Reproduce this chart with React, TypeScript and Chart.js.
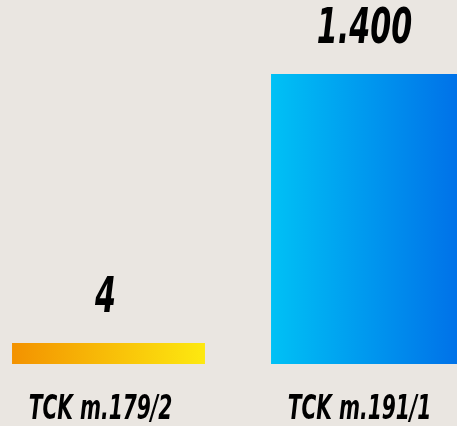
import React, { useEffect, useRef } from "react";
import { Chart, registerables } from "chart.js";

Chart.register(...registerables);

const categories = ["TCK m.179/2", "TCK m.191/1"];
const values = [4, 1400];
const valueLabels = ["4", "1.400"];
const gradientStops = [
  ["#f39200", "#fde910"],
  ["#00c1f5", "#006fe8"],
];

const BG = "#eae6e1";
const FONT = "'DejaVu Sans Condensed', 'Liberation Sans', sans-serif";

const labelPlugin = {
  id: "customLabels",
  afterDatasetsDraw(chart: any) {
    const ctx = chart.ctx;
    const meta = chart.getDatasetMeta(0);
    ctx.save();
    ctx.fillStyle = "#000";
    ctx.textAlign = "center";
    ctx.textBaseline = "alphabetic";
    meta.data.forEach((bar: any, i: number) => {
      // value label
      ctx.save();
      ctx.translate(bar.x - 3, bar.y - 31);
      ctx.scale(0.67, 1);
      ctx.font = `italic bold 50px ${FONT}`;
      ctx.fillText(valueLabels[i], 0, 0);
      ctx.restore();
      // category label
      ctx.save();
      ctx.translate(bar.x - 8, chart.chartArea.bottom + 55);
      ctx.scale(0.68, 1);
      ctx.font = `italic bold 33px ${FONT}`;
      ctx.fillText(categories[i], 0, 0);
      ctx.restore();
    });
    ctx.restore();
  },
};

export default function App() {
  const ref = useRef<HTMLCanvasElement>(null);
  useEffect(() => {
    document.body.style.margin = "0";
    const chart = new Chart(ref.current!, {
      type: "bar",
      data: {
        labels: categories,
        datasets: [
          {
            data: values,
            minBarLength: 21,
            barPercentage: 0.745,
            categoryPercentage: 1,
            borderWidth: 0,
            backgroundColor: (c: any) => {
              const chart = c.chart;
              const xs = chart.scales.x;
              const i = c.dataIndex ?? 0;
              if (!xs || !chart.chartArea) return gradientStops[i][0];
              const center = xs.getPixelForValue(i);
              const w = (xs.width / categories.length) * 0.745;
              const g = chart.ctx.createLinearGradient(center - w / 2, 0, center + w / 2, 0);
              g.addColorStop(0, gradientStops[i][0]);
              g.addColorStop(1, gradientStops[i][1]);
              return g;
            },
          },
        ],
      },
      options: {
        responsive: false,
        animation: false,
        layout: { padding: { top: 74, bottom: 62, left: 0, right: 0 } },
        plugins: { legend: { display: false }, tooltip: { enabled: false } },
        scales: {
          x: { display: false },
          y: { display: false, min: 0, max: 1400 },
        },
      },
      plugins: [labelPlugin],
    });
    return () => chart.destroy();
  }, []);
  return (
    <div
      style={{
        position: "fixed",
        left: 0,
        top: 0,
        width: 457,
        height: 426,
        overflow: "hidden",
        background: BG,
      }}
    >
      <canvas
        ref={ref}
        width={518}
        height={426}
        style={{ position: "absolute", left: -21, top: 0, width: 518, height: 426 }}
      />
    </div>
  );
}
